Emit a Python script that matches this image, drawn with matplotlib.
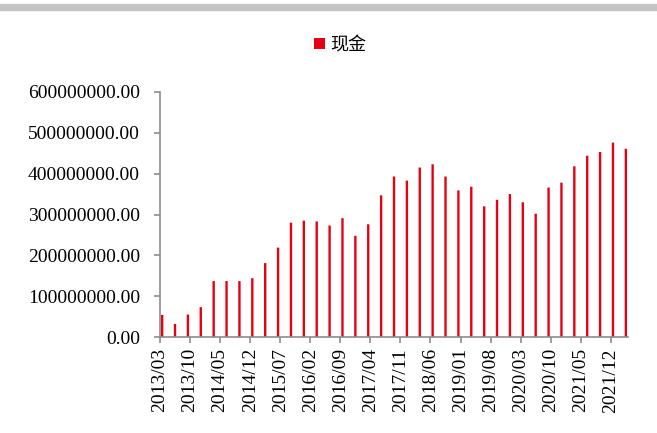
import matplotlib
matplotlib.use("Agg")
import matplotlib.pyplot as plt
from matplotlib.patches import Rectangle

plt.rcParams['font.family'] = ['Liberation Serif', 'Noto Sans CJK SC', 'DejaVu Sans']

periods = ["2013/03", "2013/06", "2013/09", "2013/12", "2014/03", "2014/06", "2014/09", "2014/12",
           "2015/03", "2015/06", "2015/09", "2015/12", "2016/03", "2016/06", "2016/09", "2016/12",
           "2017/03", "2017/06", "2017/09", "2017/12", "2018/03", "2018/06", "2018/09", "2018/12",
           "2019/03", "2019/06", "2019/09", "2019/12", "2020/03", "2020/06", "2020/09", "2020/12",
           "2021/03", "2021/06", "2021/09", "2021/12", "2022/03"]
cash = [54e6, 32e6, 55e6, 73e6, 137e6, 137e6, 137e6, 144e6,
        181e6, 219e6, 280e6, 285e6, 283e6, 273e6, 291e6, 248e6,
        276e6, 347e6, 393e6, 383e6, 415e6, 423e6, 393e6, 359e6,
        368e6, 320e6, 336e6, 350e6, 330e6, 302e6, 366e6, 378e6,
        418e6, 444e6, 453e6, 476e6, 461e6]
tick_labels = ["2013/03", "2013/10", "2014/05", "2014/12", "2015/07", "2016/02", "2016/09",
               "2017/04", "2017/11", "2018/06", "2019/01", "2019/08", "2020/03", "2020/10",
               "2021/05", "2021/12"]
yticks = [0, 100e6, 200e6, 300e6, 400e6, 500e6, 600e6]


def month_index(s):
    y, m = s.split("/")
    return (int(y) - 2013) * 12 + int(m) - 3


xs = [month_index(p) + 0.5 for p in periods]
tx = [month_index(t) for t in tick_labels]

fig = plt.figure(figsize=(6.57, 4.33), dpi=100)
fig.patches.append(Rectangle((0, 1 - 9.5 / 433), 1, 5.5 / 433, transform=fig.transFigure,
                             color="#c4c4c4", zorder=0))
ax = fig.add_axes([160 / 657, 1 - 337 / 433, 468 / 657, 245 / 433])

bars = ax.bar(xs, cash, width=0.55, color="#e60012", label="现金", zorder=2)
for b in bars:
    b.set_snap(False)

ax.set_xlim(0, 109)
ax.set_ylim(0, 600e6)
ax.set_yticks(yticks)
ax.set_yticklabels([f"{v:.2f}" for v in yticks], fontsize=14)
ax.set_xticks(tx)
ax.set_xticklabels(tick_labels, rotation=90, fontsize=14)

for s in ["top", "right"]:
    ax.spines[s].set_visible(False)
for s in ["left", "bottom"]:
    ax.spines[s].set_color("#8c8c8c")
    ax.spines[s].set_linewidth(1.2)
ax.tick_params(axis="both", direction="out", color="#8c8c8c", length=4.5, width=1.2)
ax.tick_params(axis="y", pad=10)
ax.tick_params(axis="x", pad=3.5)

leg = fig.legend(handles=[bars], labels=["现金"], loc="center", bbox_to_anchor=(340 / 657, 1 - 45 / 433),
                 frameon=False, handlelength=0.6, handleheight=0.6, handletextpad=0.3,
                 prop={"family": ["Noto Sans CJK SC"], "size": 13})

fig.savefig("out.png", dpi=100)
